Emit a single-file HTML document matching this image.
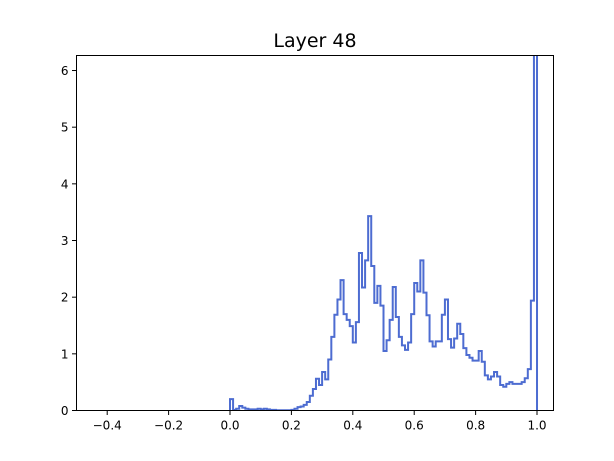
<!DOCTYPE html>
<html><head><meta charset="utf-8"><style>
html,body{margin:0;padding:0;background:#fff;}
svg{display:block;font-family:"DejaVu Sans","Liberation Sans",sans-serif;}
</style></head><body>
<svg id="chart" width="614" height="461" viewBox="0 0 614 461">
<text x="315" y="47" text-anchor="middle" font-size="19" fill="#000">Layer 48</text>
<g id="plot"></g>
<rect x="76.5" y="55.5" width="477" height="355" fill="none" stroke="#000" stroke-width="1"/>
<g id="xticks"></g><g id="yticks"></g>
</svg>
<script>
const binStart = 0.0;
const binWidth = 0.01;
const counts = [0.2,0.01,0.03,0.08,0.05,0.03,0.02,0.02,0.02,0.03,0.02,0.03,0.02,0.01,0.01,0.005,0.005,0.005,0.005,0.005,
0.01,0.03,0.06,0.07,0.1,0.15,0.26,0.38,0.56,0.45,0.68,0.55,0.9,1.3,1.69,1.96,2.3,1.7,1.6,1.49,
1.2,1.56,2.78,2.17,2.65,3.43,2.55,1.9,2.2,1.85,1.05,1.24,1.6,2.18,1.65,1.3,1.15,1.07,1.2,1.7,
2.25,2.1,2.65,2.08,1.68,1.22,1.13,1.22,1.22,1.69,1.96,1.26,1.11,1.27,1.53,1.35,1.1,0.98,0.93,0.88,
0.88,1.05,0.86,0.62,0.55,0.6,0.68,0.6,0.45,0.42,0.47,0.5,0.47,0.47,0.47,0.5,0.57,0.73,1.94,8];
const xTicks = [-0.4,-0.2,0.0,0.2,0.4,0.6,0.8,1.0];
const xTickLabels = ["\u22120.4","\u22120.2","0.0","0.2","0.4","0.6","0.8","1.0"];
const yTicks = [0,1,2,3,4,5,6];
const yTickLabels = ["0","1","2","3","4","5","6"];

const L=76.5,R=553.5,T=55.5,B=410.5;
const xMin=-0.5,xMax=1.0537,yMin=0,yMax=6.265;
const sx=v=>L+(v-xMin)/(xMax-xMin)*(R-L);
const sy=v=>B-(Math.min(v,yMax+1)-yMin)/(yMax-yMin)*(B-T);
const NS="http://www.w3.org/2000/svg";
const svg=document.getElementById('chart');
const plot=document.getElementById('plot');

const clip=document.createElementNS(NS,'clipPath');clip.setAttribute('id','cp');
const cr=document.createElementNS(NS,'rect');
cr.setAttribute('x',L);cr.setAttribute('y',T);cr.setAttribute('width',R-L);cr.setAttribute('height',B-T);
clip.appendChild(cr);svg.insertBefore(clip,svg.firstChild);

let d='M'+sx(binStart)+','+sy(0);
counts.forEach((c,i)=>{const x0=sx(binStart+i*binWidth),x1=sx(binStart+(i+1)*binWidth);d+=' L'+x0+','+sy(c)+' L'+x1+','+sy(c);});
d+=' L'+sx(binStart+counts.length*binWidth)+','+sy(0);
const p=document.createElementNS(NS,'path');
p.setAttribute('d',d);p.setAttribute('fill','none');p.setAttribute('stroke','#3a5ccc');
p.setAttribute('stroke-width','2');p.setAttribute('stroke-opacity','0.9');p.setAttribute('clip-path','url(#cp)');


plot.appendChild(p);

const xg=document.getElementById('xticks');
xTicks.forEach((v,i)=>{const x=sx(v);
 const l=document.createElementNS(NS,'line');l.setAttribute('x1',x);l.setAttribute('x2',x);l.setAttribute('y1',B);l.setAttribute('y2',B+4.5);l.setAttribute('stroke','#000');
 
 
 xg.appendChild(l);
 const t=document.createElementNS(NS,'text');t.setAttribute('x',x);t.setAttribute('y',B+19);t.setAttribute('text-anchor','middle');t.setAttribute('font-size','12');t.textContent=xTickLabels[i];
 
 
 xg.appendChild(t);});
const yg=document.getElementById('yticks');
yTicks.forEach((v,i)=>{const y=sy(v);
 const l=document.createElementNS(NS,'line');l.setAttribute('x1',L-4.5);l.setAttribute('x2',L);l.setAttribute('y1',y);l.setAttribute('y2',y);l.setAttribute('stroke','#000');
 
 
 yg.appendChild(l);
 const t=document.createElementNS(NS,'text');t.setAttribute('x',L-8);t.setAttribute('y',y+4.5);t.setAttribute('text-anchor','end');t.setAttribute('font-size','12');t.textContent=yTickLabels[i];
 
 
 yg.appendChild(t);});
</script>
</body></html>
